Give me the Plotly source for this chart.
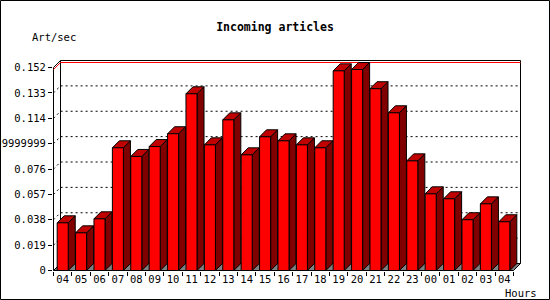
import plotly.graph_objects as go

# ---------------- data ----------------
hours = ["04", "05", "06", "07", "08", "09", "10", "11", "12", "13", "14", "15",
         "16", "17", "18", "19", "20", "21", "22", "23", "00", "01", "02", "03", "04"]
rate = [0.0357, 0.0282, 0.0387, 0.0919, 0.0854, 0.0928, 0.1024, 0.1323, 0.0941,
        0.1128, 0.0866, 0.1001, 0.0971, 0.0941, 0.0919, 0.1495, 0.1505, 0.1361,
        0.1181, 0.0821, 0.0574, 0.0537, 0.0380, 0.0499, 0.0365]
y_ticks = [0, 0.019, 0.038, 0.057, 0.076, 0.095, 0.114, 0.133, 0.152]
y_tick_text = ["0", "0.019", "0.038", "0.057", "0.076", "0.09499999999",
               "0.114", "0.133", "0.152"]
title = "Incoming articles"
y_title = "Art/sec"
x_title = "Hours"

# ---------------- geometry / style ----------------
W, H = 550, 300
L, T, PW, PH = 53, 60, 468, 211          # plot area in pixels
SX = 18.4                                # px per category
SY = 203 / 0.152                         # px per unit of value
DEPTH = 7                                # 3D depth in px
dx, dy = DEPTH / SX, DEPTH / SY
x0 = -0.5 / SX
x1 = x0 + PW / SX
y0 = -0.5 / SY
y1 = y0 + PH / SY
n = len(hours)
top = y_ticks[-1]
BAR_OFF, BAR_W = 0.2, 0.6
FONT = "DejaVu Sans Mono"

C_FRONT, C_SIDE, C_TOP = "#ff0000", "#800000", "#c00000"


def line_trace(xs, ys, color="black", dash=None, width=1):
    return go.Scatter(x=xs, y=ys, mode="lines", hoverinfo="skip", showlegend=False,
                      line=dict(color=color, width=width, dash=dash))


def poly_trace(xs, ys, fill, outline="black"):
    return go.Scatter(x=xs, y=ys, mode="lines", fill="toself", fillcolor=fill,
                      hoverinfo="skip", showlegend=False,
                      line=dict(color=outline, width=1))


fig = go.Figure()

# floor
fig.add_trace(go.Scatter(x=[0, n, n + dx, dx, 0], y=[0, 0, dy, dy, 0], mode="lines",
                         fill="toself", fillcolor="#808080", line=dict(width=0),
                         hoverinfo="skip", showlegend=False))

# grid lines (left wall + back wall)
gx, gy = [], []
for t in y_ticks[1:-1]:
    gx += [0, dx, n + dx, None]
    gy += [t, t + dy, t + dy, None]
fig.add_trace(line_trace(gx, gy, dash="2px,3px"))

# walls outline
wx = [dx, n + dx, n + dx, dx, dx, None, 0, 0, dx, None, 0, dx, None, n, n + dx]
wy = [dy, dy, top + dy, top + dy, dy, None, 0, top, top + dy, None, 0, dy, None, 0, dy]
fig.add_trace(line_trace(wx, wy))

# max line (red)
vmax = max(rate)
fig.add_trace(line_trace([0, dx, n + dx], [vmax, vmax + dy, vmax + dy], color="#ff0000"))

# bars
fx, fy, sx, sy, tx, ty = [], [], [], [], [], []
for i, v in enumerate(rate):
    a = i + BAR_OFF
    b = a + BAR_W
    fx += [a, b, b, a, a, None]
    fy += [0, 0, v, v, 0, None]
    sx += [b, b + dx, b + dx, b, b, None]
    sy += [0, dy, v + dy, v, 0, None]
    tx += [a, b, b + dx, a + dx, a, None]
    ty += [v, v, v + dy, v + dy, v, None]
fig.add_trace(poly_trace(sx, sy, C_SIDE))
fig.add_trace(poly_trace(tx, ty, C_TOP))
fig.add_trace(poly_trace(fx, fy, C_FRONT))

# front x axis line
fig.add_trace(line_trace([0, n], [0, 0]))

tick_font = dict(family=FONT, size=10.5, color="black")

fig.update_layout(
    width=W, height=H,
    margin=dict(l=L, r=W - L - PW, t=T, b=H - T - PH, pad=0),
    paper_bgcolor="white", plot_bgcolor="white",
    title=dict(text="<b>" + title + "</b>", x=0.5, xanchor="center",
               y=1 - 27 / H, yanchor="middle", yref="container",
               font=dict(family=FONT, size=11.5, color="black")),
    xaxis=dict(range=[x0, x1], tickvals=[i + 0.5 for i in range(n)], ticktext=hours,
               ticks="", showgrid=False, zeroline=False, showline=False,
               tickfont=tick_font, automargin=False, fixedrange=True),
    xaxis2=dict(range=[x0, x1], overlaying="x", anchor="y", side="bottom",
                tickvals=list(range(n + 1)), ticks="outside", ticklen=4, tickwidth=1,
                tickcolor="black", showticklabels=False, showgrid=False,
                zeroline=False, showline=False, automargin=False),
    yaxis=dict(range=[y0, y1], tickvals=y_ticks, ticktext=y_tick_text,
               ticks="outside", ticklen=4, tickwidth=1, tickcolor="black",
               showgrid=False, zeroline=False, showline=False,
               tickfont=tick_font, automargin=False, fixedrange=True),
    annotations=[
        dict(text=y_title, xref="paper", yref="paper", x=(30 - L) / PW,
             y=(T + PH - 37) / PH, xanchor="left", yanchor="middle",
             showarrow=False, font=tick_font),
        dict(text=x_title, xref="paper", yref="paper", x=(503 - L) / PW,
             y=(T + PH - 293) / PH, xanchor="left", yanchor="middle",
             showarrow=False, font=tick_font),
    ],
    shapes=[dict(type="rect", xref="paper", yref="paper",
                 x0=(0.5 - L) / PW, x1=(W - 0.5 - L) / PW,
                 y0=(T + PH - (H - 0.5)) / PH, y1=(T + PH - 0.5) / PH,
                 line=dict(color="black", width=1), layer="above")],
)

# dummy trace so xaxis2 is drawn
fig.add_trace(go.Scatter(x=[None], y=[None], xaxis="x2", yaxis="y",
                         showlegend=False, hoverinfo="skip"))

fig.write_html("out.html")
